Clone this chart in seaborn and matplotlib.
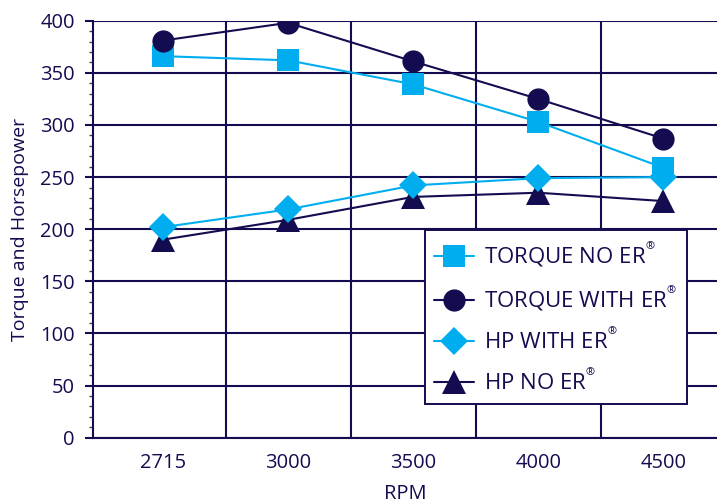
import matplotlib
matplotlib.use("Agg")
import matplotlib.pyplot as plt
import seaborn as sns
import numpy as np
import pandas as pd
from matplotlib.ticker import MultipleLocator, FixedLocator

rpm = ["2715", "3000", "3500", "4000", "4500"]
torque_no_er = [366, 362, 339, 303, 259]
torque_with_er = [381, 398, 361, 325, 287]
hp_with_er = [202, 219, 242, 249, 250]
hp_no_er = [190, 209, 231, 235, 227]

labels = ["TORQUE NO ER", "TORQUE WITH ER", "HP WITH ER", "HP NO ER"]

NAVY = "#140C50"
BLUE = "#00AEEF"

sns.set_theme(style="white")
plt.rcParams["font.family"] = ["Open Sans", "DejaVu Sans"]
plt.rcParams["mathtext.fontset"] = "custom"
plt.rcParams["mathtext.rm"] = "Open Sans"
plt.rcParams["mathtext.it"] = "Open Sans"
plt.rcParams["mathtext.bf"] = "Open Sans"

fig = plt.figure(figsize=(7.17, 5.04), dpi=100)
ax = fig.add_axes([0.1297, 0.1315, 0.8703, 0.8274])

x = np.arange(len(rpm))
series = [
    (torque_no_er, BLUE, "s", 16, 2),
    (torque_with_er, NAVY, "o", 16, 3),
    (hp_with_er, BLUE, "D", 14.5, 5),
    (hp_no_er, NAVY, "^", 17, 4),
]
for (vals, col, mk, ms, z), lab in zip(series, labels):
    df = pd.DataFrame({"x": x, "y": vals})
    sns.lineplot(data=df, x="x", y="y", ax=ax, color=col, marker=mk,
                 markersize=ms, markeredgewidth=0, linewidth=1.5,
                 label=lab + r"$^{^{®}}$", zorder=z)

ax.set_xlim(-0.56, 4.43)
ax.set_ylim(0, 400)
ax.set_xticks(x)
ax.set_xticklabels(rpm)
ax.xaxis.set_minor_locator(FixedLocator(x[:-1] + 0.5))
ax.yaxis.set_major_locator(MultipleLocator(50))
ax.yaxis.set_minor_locator(MultipleLocator(10))

ax.grid(False)
ax.xaxis.grid(True, which="minor", color=NAVY, linewidth=1.5)
ax.yaxis.grid(True, which="major", color=NAVY, linewidth=1.5)
ax.set_axisbelow(True)

for s in ["top", "right"]:
    ax.spines[s].set_visible(False)
for s in ["left", "bottom"]:
    ax.spines[s].set_color(NAVY)
    ax.spines[s].set_linewidth(1.5)

ax.tick_params(axis="x", which="both", length=0, pad=11, labelsize=14.5,
               labelcolor=NAVY)
ax.tick_params(axis="y", which="major", left=True, length=6, width=1.5,
               color=NAVY, pad=7, labelsize=14.5, labelcolor=NAVY)
ax.tick_params(axis="y", which="minor", left=True, length=3, width=1,
               color="#444444")

ax.set_xlabel("RPM", fontsize=14.5, color=NAVY, labelpad=8)
ax.set_ylabel("Torque and Horsepower", fontsize=14, color=NAVY, labelpad=8)

leg = ax.legend(loc="upper left", bbox_to_anchor=(0.532, 0.498),
                fontsize=16, frameon=True, fancybox=False, framealpha=1,
                edgecolor=NAVY, handlelength=1.8, handletextpad=0.45,
                labelspacing=0.65, borderpad=0.42, borderaxespad=0)
leg.get_frame().set_linewidth(1.4)
for t in leg.get_texts():
    t.set_color(NAVY)

fig.savefig("out.png", dpi=100)
